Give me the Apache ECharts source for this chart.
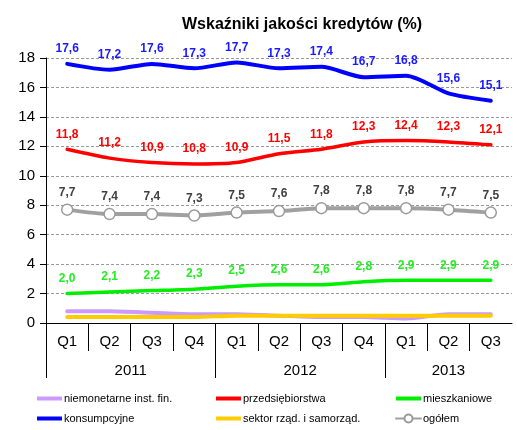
<!DOCTYPE html>
<html>
<head>
<meta charset="utf-8">
<script src="https://cdn.jsdelivr.net/npm/echarts@6/dist/echarts.min.js"></script>
<style>
  html, body { margin: 0; padding: 0; background: #fff; }
  #chart { width: 517px; height: 430px; }
</style>
</head>
<body>
<div id="chart"></div>
<script>
// Quarters and the years they belong to
const quarters = ['Q1', 'Q2', 'Q3', 'Q4', 'Q1', 'Q2', 'Q3', 'Q4', 'Q1', 'Q2', 'Q3'];
const years = ['2011', '2012', '2013'];
const quartersPerYear = [4, 4, 3];

// Loan quality indicators (%)
const niemonetarne = [0.8, 0.8, 0.7, 0.6, 0.6, 0.5, 0.4, 0.4, 0.3, 0.6, 0.6];
const przedsiebiorstwa = [11.8, 11.2, 10.9, 10.8, 10.9, 11.5, 11.8, 12.3, 12.4, 12.3, 12.1];
const mieszkaniowe = [2.0, 2.1, 2.2, 2.3, 2.5, 2.6, 2.6, 2.8, 2.9, 2.9, 2.9];
const konsumpcyjne = [17.6, 17.2, 17.6, 17.3, 17.7, 17.3, 17.4, 16.7, 16.8, 15.6, 15.1];
const sektorRzad = [0.4, 0.4, 0.4, 0.4, 0.5, 0.5, 0.5, 0.5, 0.5, 0.5, 0.5];
const ogolem = [7.7, 7.4, 7.4, 7.3, 7.5, 7.6, 7.8, 7.8, 7.8, 7.7, 7.5];

// Y axis ticks
const yMin = 0, yMax = 18, yStep = 2;

const FONT = 'Arial, "Liberation Sans", sans-serif';

// Year boundaries and centres along the quarter scale
const yearStarts = [];
const yearCentres = [];
let acc = 0;
quartersPerYear.forEach(n => { yearStarts.push(acc); yearCentres.push(acc + n / 2); acc += n; });
const innerBoundaries = [];
for (let i = 1; i < quarters.length; i++) if (!yearStarts.includes(i)) innerBoundaries.push(i);

const fmt = v => v.toFixed(1).replace('.', ',');

function lineSeries(name, data, color, width, labelColor) {
  return {
    name, type: 'line', data,
    xAxisIndex: 0, yAxisIndex: 0,
    smooth: 0.25,
    symbol: 'circle', symbolSize: 0.1, showSymbol: true,
    lineStyle: { color, width, cap: 'round' },
    itemStyle: { color: 'rgba(0,0,0,0)' },
    label: labelColor ? {
      show: true, position: 'top', distance: 9,
      color: labelColor, fontFamily: FONT, fontWeight: 'bold', fontSize: 12,
      formatter: p => fmt(p.value)
    } : { show: false },
    labelLayout: { hideOverlap: false },
    emphasis: { disabled: true },
    animation: false
  };
}

const series = [
  lineSeries('niemonetarne inst. fin.', niemonetarne, '#cc99ff', 4, null),
  lineSeries('sektor rząd. i samorząd.', sektorRzad, '#ffcc00', 4, null),
  lineSeries('mieszkaniowe', mieszkaniowe, '#00ee00', 3.5, '#22ee22'),
  lineSeries('przedsiębiorstwa', przedsiebiorstwa, '#ff0000', 3.5, '#ff0000'),
  lineSeries('konsumpcyjne', konsumpcyjne, '#0000ff', 4, '#1a1aff'),
  Object.assign(lineSeries('ogółem', ogolem, '#a0a0a0', 4, '#404040'), {
    symbol: 'circle', symbolSize: 11,
    itemStyle: { color: '#ffffff', borderColor: '#9a9a9a', borderWidth: 1.5 },
    label: {
      show: true, position: 'top', distance: 5,
      color: '#404040', fontFamily: FONT, fontWeight: 'bold', fontSize: 12,
      formatter: p => fmt(p.value)
    }
  })
];

// Legend swatches: a plain bar for line-only series, series default for the marked one
const BAR = 'path://M0,0H25V4H0Z';
const legendText = { fontFamily: FONT, fontSize: 11, color: '#000', padding: [0, 0, 0, -3] };
const seriesColor = Object.fromEntries(series.map(s => [s.name, s.lineStyle.color]));
function legendCol(left, names) {
  return {
    data: names.map(n => n === 'ogółem'
      ? { name: n }
      : { name: n, icon: BAR, itemStyle: { color: seriesColor[n] } }),
    orient: 'vertical', left, top: 393, width: 170, height: 37,
    padding: 0,
    itemWidth: 25, itemHeight: 10, itemGap: 9,
    textStyle: legendText, selectedMode: false
  };
}

const chart = echarts.init(document.getElementById('chart'), null, { renderer: 'canvas' });
chart.setOption({
  animation: false,
  backgroundColor: '#fff',
  title: {
    text: 'Wskaźniki jakości kredytów (%)',
    left: 177, top: 12,
    textStyle: { fontFamily: FONT, fontWeight: 'bold', fontSize: 16, color: '#000' }
  },
  legend: [
    legendCol(37, ['niemonetarne inst. fin.', 'konsumpcyjne']),
    legendCol(216, ['przedsiębiorstwa', 'sektor rząd. i samorząd.']),
    legendCol(395, ['mieszkaniowe', 'ogółem'])
  ],
  grid: { left: 46, right: 5, top: 58, bottom: 107, containLabel: false },
  xAxis: [
    {
      type: 'category', data: quarters, position: 'bottom', boundaryGap: true,
      axisLine: { show: true, lineStyle: { color: '#000', width: 1 } },
      axisTick: { show: false },
      axisLabel: { fontFamily: FONT, fontSize: 15, color: '#000', margin: 11, interval: 0 },
      splitLine: { show: false }
    },
    {
      type: 'value', min: 0, max: quarters.length, position: 'bottom',
      axisLine: { show: false },
      axisTick: { show: true, customValues: innerBoundaries, length: 28, lineStyle: { color: '#000' } },
      axisLabel: { show: false },
      splitLine: { show: false }
    },
    {
      type: 'value', min: 0, max: quarters.length, position: 'bottom',
      axisLine: { show: false },
      axisTick: { show: true, customValues: yearStarts, length: 55, lineStyle: { color: '#000' } },
      axisLabel: {
        show: true, customValues: yearCentres, margin: 40,
        fontFamily: FONT, fontSize: 15, color: '#000',
        formatter: v => { const i = yearCentres.indexOf(v); return i >= 0 ? years[i] : ''; }
      },
      splitLine: { show: false }
    }
  ],
  yAxis: {
    type: 'value', min: yMin, max: yMax, interval: yStep,
    axisLine: { show: true, lineStyle: { color: '#000', width: 1 } },
    axisTick: { show: true, length: 6, lineStyle: { color: '#000' } },
    axisLabel: { fontFamily: FONT, fontSize: 15, color: '#000', margin: 11 },
    splitLine: { show: true, lineStyle: { color: '#9a9a9a', type: [3, 2], width: 1 } }
  },
  series
});
</script>
</body>
</html>
